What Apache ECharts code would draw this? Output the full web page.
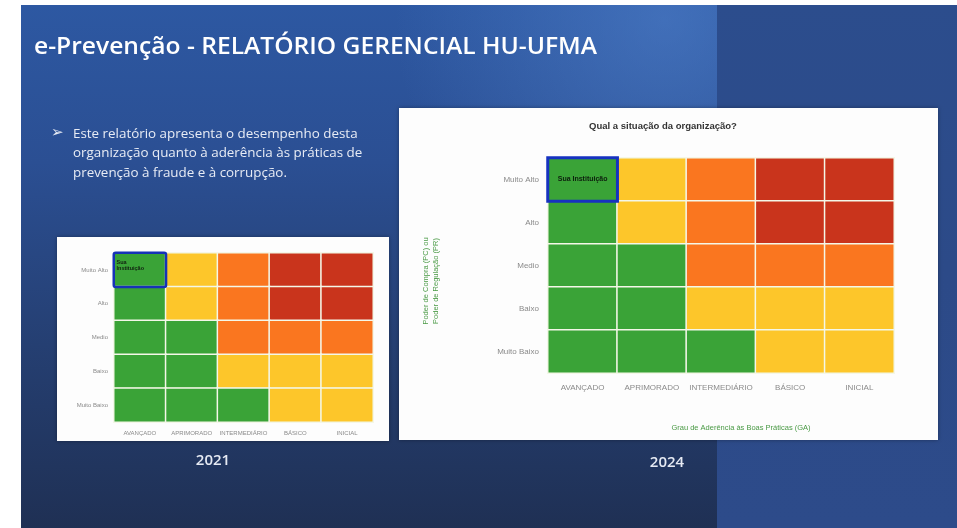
<!DOCTYPE html>
<html>
<head>
<meta charset="utf-8">
<script src="https://cdn.jsdelivr.net/npm/echarts@6/dist/echarts.min.js"></script>
<style>html,body{margin:0;padding:0;background:#fff;}#c{width:957px;height:528px;}</style>
</head>
<body>
<div id="c"></div>
<script>
// ---- data ----
const xCategories = ['AVANÇADO', 'APRIMORADO', 'INTERMEDIÁRIO', 'BÁSICO', 'INICIAL'];
const yCategories = ['Muito Alto', 'Alto', 'Medio', 'Baixo', 'Muito Baixo'];
// risk level per cell (rows top→bottom): 0 green, 1 yellow, 2 orange, 3 red
const risk2021 = [
  [0, 1, 2, 3, 3],
  [0, 1, 2, 3, 3],
  [0, 0, 2, 2, 2],
  [0, 0, 1, 1, 1],
  [0, 0, 0, 1, 1]
];
const risk2024 = [
  [0, 1, 2, 3, 3],
  [0, 1, 2, 3, 3],
  [0, 0, 2, 2, 2],
  [0, 0, 1, 1, 1],
  [0, 0, 0, 1, 1]
];
const position2021 = ['AVANÇADO', 'Muito Alto'];
const position2024 = ['AVANÇADO', 'Muito Alto'];
const positionLabel = 'Sua Instituição';
const yearLabels = ['2021', '2024'];
const slideTitle = 'e-Prevenção - RELATÓRIO GERENCIAL HU-UFMA';
const bulletLines = [
  'Este relatório apresenta o desempenho desta',
  'organização quanto à aderência às práticas de',
  'prevenção à fraude e à corrupção.'
];
const chartTitle = 'Qual a situação da organização?';
const yAxisName = 'Poder de Compra (PC) ou\nPoder de Regulação (PR)';
const xAxisName = 'Grau de Aderência às Boas Práticas (GA)';

// ---- build ----
function toCells(m) {
  const out = [];
  m.forEach((row, yi) => row.forEach((v, xi) => out.push([xi, yi, v])));
  return out;
}
function posCell(p) { return [[xCategories.indexOf(p[0]), yCategories.indexOf(p[1]), 1]]; }

const colors = { green: '#3aa337', yellow: '#fdc62a', orange: '#fa761f', red: '#c9341c' };
const axisLabelColor = '#8a8a8a';
const font = 'Liberation Sans, Arial, sans-serif';

const chart = echarts.init(document.getElementById('c'), null, { renderer: 'canvas' });

const graphics = [
  { type: 'rect', z: -10, shape: { x: 21, y: 5, width: 936, height: 523 },
    style: { fill: new echarts.graphic.LinearGradient(0, 0, 0, 1, [
      { offset: 0, color: '#2d58a2' }, { offset: 0.3, color: '#2b4f93' },
      { offset: 0.65, color: '#253f72' }, { offset: 1, color: '#1f3054' }]) } },
  { type: 'rect', z: -9, shape: { x: 21, y: 5, width: 700, height: 300 },
    style: { fill: new echarts.graphic.RadialGradient(0.92, 0.05, 0.9, [
      { offset: 0, color: 'rgba(85,135,210,0.5)' }, { offset: 1, color: 'rgba(85,135,210,0)' }]) } },
  { type: 'rect', z: -8, shape: { x: 717, y: 5, width: 240, height: 523 },
    style: { fill: new echarts.graphic.LinearGradient(0, 0, 0, 1, [
      { offset: 0, color: '#2c4d8d' }, { offset: 0.5, color: '#2c4a88' }, { offset: 1, color: '#2d4b8a' }]) } },
  // white panels
  { type: 'rect', z: -5, shape: { x: 57, y: 237, width: 332, height: 204 },
    style: { fill: '#fdfdfd', shadowBlur: 4, shadowColor: 'rgba(0,0,0,0.35)' } },
  { type: 'rect', z: -5, shape: { x: 399, y: 108, width: 539, height: 332 },
    style: { fill: '#fdfdfd', shadowBlur: 4, shadowColor: 'rgba(0,0,0,0.35)' } },
  // slide title
  { type: 'text', x: 34, y: 47, scaleX: 1.07, style: { text: slideTitle, fill: '#ffffff',
    font: '600 23px "Open Sans", sans-serif', verticalAlign: 'middle' } },
  // bullet
  { type: 'text', x: 51, y: 133, style: { text: '➢', fill: '#e8ecf5',
    font: '15px "DejaVu Sans", sans-serif', verticalAlign: 'middle' } },
  { type: 'text', x: 73, y: 124, style: { text: bulletLines.join('\n'), fill: '#e8ecf5',
    font: '13.4px "Open Sans", sans-serif', lineHeight: 19.5, verticalAlign: 'top' } },
  // year labels
  { type: 'text', x: 213, y: 461, style: { text: yearLabels[0], fill: '#e6eaf3',
    font: '600 15px "Open Sans", sans-serif', align: 'center', verticalAlign: 'middle' } },
  { type: 'text', x: 667, y: 463, style: { text: yearLabels[1], fill: '#e6eaf3',
    font: '600 15px "Open Sans", sans-serif', align: 'center', verticalAlign: 'middle' } },
  // 2024 chart texts
  { type: 'text', x: 663, y: 126, style: { text: chartTitle, fill: '#333333',
    font: 'bold 9.5px ' + font, align: 'center', verticalAlign: 'middle' } },
  { type: 'text', x: 431, y: 281, rotation: Math.PI / 2, style: { text: yAxisName, fill: '#4a9a45',
    font: '7.5px ' + font, align: 'center', verticalAlign: 'middle', lineHeight: 10 } },
  { type: 'text', x: 741, y: 428, style: { text: xAxisName, fill: '#4a9a45',
    font: '7.5px ' + font, align: 'center', verticalAlign: 'middle' } }
];

function axisPair(gi, labelSize, margin) {
  return [
    { type: 'category', gridIndex: gi, data: xCategories, splitArea: { show: false },
      axisLine: { show: false }, axisTick: { show: false },
      axisLabel: { color: axisLabelColor, fontSize: labelSize, fontFamily: font, margin: margin, interval: 0 } },
    { type: 'category', gridIndex: gi, data: yCategories, inverse: true, splitArea: { show: false },
      axisLine: { show: false }, axisTick: { show: false },
      axisLabel: { color: axisLabelColor, fontSize: labelSize, fontFamily: font, margin: margin - 2 } }
  ];
}
const ax21 = axisPair(0, 6, 8);
const ax24 = axisPair(1, 8, 11);

chart.setOption({
  animation: false,
  backgroundColor: '#ffffff',
  graphic: graphics,
  grid: [
    { left: 114, top: 253, width: 259, height: 169 },
    { left: 548, top: 158, width: 346, height: 215 }
  ],
  xAxis: [ax21[0], ax24[0]],
  yAxis: [ax21[1], ax24[1]],
  visualMap: {
    show: false, type: 'piecewise', seriesIndex: [0, 1],
    pieces: [
      { value: 0, color: colors.green }, { value: 1, color: colors.yellow },
      { value: 2, color: colors.orange }, { value: 3, color: colors.red }
    ]
  },
  series: [
    { type: 'heatmap', xAxisIndex: 0, yAxisIndex: 0, data: toCells(risk2021),
      itemStyle: { borderColor: '#f4f7e8', borderWidth: 1.5 }, emphasis: { disabled: true } },
    { type: 'heatmap', xAxisIndex: 1, yAxisIndex: 1, data: toCells(risk2024),
      itemStyle: { borderColor: '#f4f7e8', borderWidth: 1.5 }, emphasis: { disabled: true } },
    { type: 'heatmap', xAxisIndex: 0, yAxisIndex: 0, data: posCell(position2021), z: 5,
      itemStyle: { color: 'rgba(0,0,0,0)', borderColor: '#1632b8', borderWidth: 2.5, borderRadius: 2 },
      label: { show: true, formatter: 'Sua\nInstituição', position: 'insideTopLeft', distance: 3,
        color: '#102010', fontSize: 5.5, fontWeight: 'bold', fontFamily: font, lineHeight: 6, padding: [5, 0, 0, 1] },
      emphasis: { disabled: true } },
    { type: 'heatmap', xAxisIndex: 1, yAxisIndex: 1, data: posCell(position2024), z: 5,
      itemStyle: { color: 'rgba(0,0,0,0)', borderColor: '#1632c0', borderWidth: 3 },
      label: { show: true, formatter: positionLabel, color: '#0e1e0e', fontSize: 7, fontWeight: 'bold', fontFamily: font },
      emphasis: { disabled: true } }
  ]
});
</script>
</body>
</html>
